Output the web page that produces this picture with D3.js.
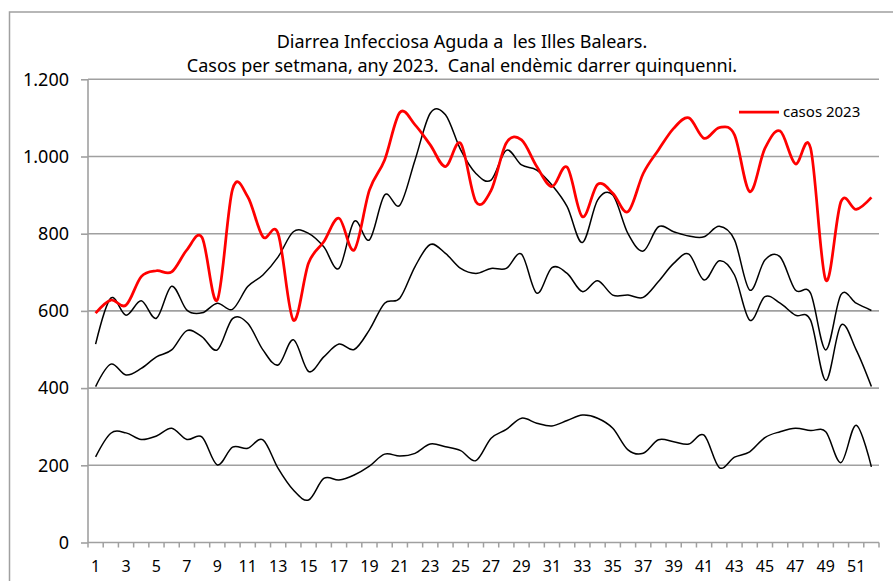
<!DOCTYPE html>
<html>
<head>
<meta charset="utf-8">
<script src="https://cdn.jsdelivr.net/npm/d3@7"></script>
<style>
  body { margin: 0; background: #fff; }
  svg { display: block; font-family: 'Noto Sans', sans-serif; }
  text { white-space: pre; }
</style>
</head>
<body>
<svg id="chart" width="893" height="581"></svg>
<script>
// weeks of the year
var weeks = d3.range(1, 53);

// casos 2023
var casos2023 = [594, 628, 615, 689, 704, 701, 758, 790, 628, 915, 896, 792, 800, 576, 724, 779, 840, 758, 913, 991,
  1114, 1082, 1030, 974, 1034, 883, 912, 1035, 1043, 974, 922, 972, 844, 928, 905, 857, 956, 1017, 1073, 1100,
  1047, 1075, 1056, 909, 1021, 1066, 981, 1022, 680, 883, 863, 894];

// canal endemic (three black lines)
var upperLine = [514, 633, 589, 626, 581, 664, 602, 595, 620, 604, 663, 693, 740, 805, 801, 766, 710, 832, 784, 900,
  874, 991, 1112, 1108, 1017, 956, 939, 1016, 978, 965, 926, 870, 777, 887, 900, 800, 755, 818, 805, 794,
  792, 819, 784, 654, 732, 740, 654, 646, 499, 642, 620, 601];

var middleLine = [404, 462, 434, 451, 481, 499, 549, 533, 499, 580, 568, 499, 460, 525, 443, 481, 514, 500, 551, 620,
  633, 715, 772, 749, 710, 697, 710, 710, 747, 646, 712, 697, 650, 678, 641, 641, 635, 676, 723, 747,
  680, 730, 693, 576, 637, 620, 589, 576, 420, 563, 499, 404];

var lowerLine = [222, 283, 284, 267, 276, 296, 267, 273, 201, 247, 244, 266, 192, 136, 110, 166, 162, 175, 198, 229,
  224, 231, 255, 248, 238, 212, 270, 293, 322, 309, 302, 316, 330, 322, 296, 240, 231, 266, 261, 255,
  278, 194, 221, 235, 272, 287, 296, 290, 287, 207, 304, 196];

var yTicks = [0, 200, 400, 600, 800, 1000, 1200];
var titleLines = ['Diarrea Infecciosa Aguda a  les Illes Balears.',
  'Casos per setmana, any 2023.  Canal endèmic darrer quinquenni.'];
var legendLabel = 'casos 2023';

var svg = d3.select('#chart');
var plotLeft = 88, plotRight = 879, plotTop = 79.3, plotBottom = 542.5;
var gridColor = '#a0a0a0';

// outer frame
svg.append('rect')
  .attr('x', 9.5).attr('y', 12)
  .attr('width', 900).attr('height', 600)
  .attr('fill', 'none')
  .attr('stroke', gridColor)
  .attr('stroke-width', 1.5);

var x = d3.scaleBand().domain(weeks).range([plotLeft, plotRight]).padding(0);
var y = d3.scaleLinear().domain([0, 1200]).range([plotBottom, plotTop]);

// horizontal grid
svg.append('g')
  .selectAll('line')
  .data(yTicks.filter(function(d) { return d > 0; }))
  .enter()
  .append('line')
  .attr('x1', plotLeft).attr('x2', plotRight)
  .attr('y1', function(d) { return y(d); })
  .attr('y2', function(d) { return y(d); })
  .attr('stroke', gridColor)
  .attr('stroke-width', 1.6);

// y axis
var yAxis = svg.append('g')
  .attr('transform', 'translate(' + plotLeft + ',0)')
  .call(d3.axisLeft(y)
    .tickValues(yTicks)
    .tickSize(7)
    .tickPadding(12)
    .tickFormat(function(d) { return d3.format(',')(d).replace(',', '.'); }));

// x axis, labels on odd weeks
var xAxis = svg.append('g')
  .attr('transform', 'translate(0,' + plotBottom + ')')
  .call(d3.axisBottom(x)
    .tickSize(0)
    .tickPadding(18)
    .tickFormat(function(d) { return d % 2 === 1 ? d : ''; }));

// x ticks at category boundaries
svg.append('g')
  .selectAll('line')
  .data(weeks.concat([53]))
  .enter()
  .append('line')
  .attr('x1', function(d) { return d === 53 ? plotRight : x(d); })
  .attr('x2', function(d) { return d === 53 ? plotRight : x(d); })
  .attr('y1', plotBottom)
  .attr('y2', plotBottom + 5)
  .attr('stroke', gridColor)
  .attr('stroke-width', 1.5);

[yAxis, xAxis].forEach(function(ax) {
  ax.selectAll('.domain, .tick line')
    .attr('stroke', gridColor)
    .attr('stroke-width', 1.6);
  ax.selectAll('text')
    .attr('fill', '#000')
    .style('font-family', "'Noto Sans', sans-serif");
});
yAxis.select('.domain').attr('d', 'M0,' + plotBottom + 'V' + plotTop);
xAxis.select('.domain').attr('d', 'M' + plotLeft + ',0H' + plotRight);
yAxis.selectAll('text').style('font-size', '18px');
xAxis.selectAll('text').style('font-size', '16px');

// series
var line = d3.line()
  .x(function(d, i) { return x(weeks[i]) + x.bandwidth() / 2; })
  .y(function(d) { return y(d); })
  .curve(d3.curveCardinal.tension(0));

[lowerLine, middleLine, upperLine].forEach(function(s) {
  svg.append('path')
    .datum(s)
    .attr('d', line)
    .attr('fill', 'none')
    .attr('stroke', '#000')
    .attr('stroke-width', 1.5);
});

svg.append('path')
  .datum(casos2023)
  .attr('d', line)
  .attr('fill', 'none')
  .attr('stroke', '#ff0000')
  .attr('stroke-width', 2.75);

// title
svg.append('g')
  .selectAll('text')
  .data(titleLines)
  .enter()
  .append('text')
  .attr('x', 462)
  .attr('y', function(d, i) { return 48 + i * 24; })
  .attr('text-anchor', 'middle')
  .style('font-size', '18px')
  .attr('fill', '#000')
  .text(function(d) { return d; });

// legend
svg.append('line')
  .attr('x1', 739).attr('x2', 779)
  .attr('y1', 112).attr('y2', 112)
  .attr('stroke', '#ff0000')
  .attr('stroke-width', 2.75);

svg.append('text')
  .attr('x', 783)
  .attr('y', 117)
  .style('font-size', '15px')
  .attr('fill', '#000')
  .text(legendLabel);
</script>
</body>
</html>
